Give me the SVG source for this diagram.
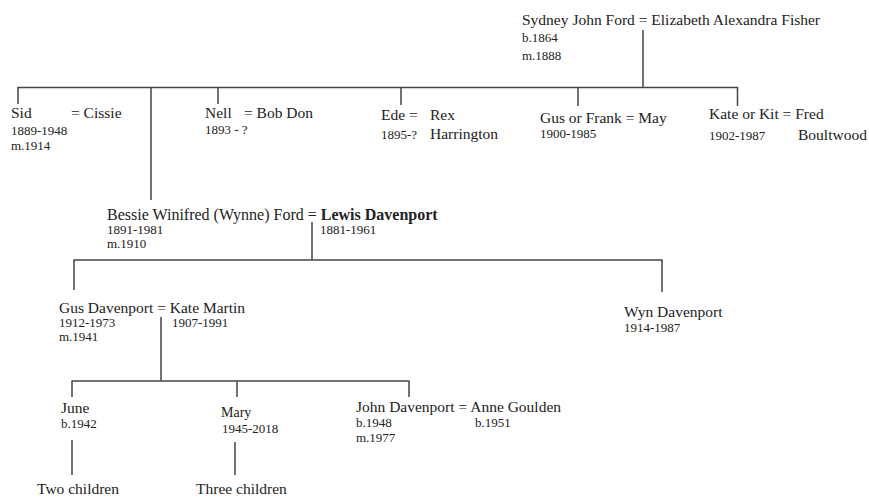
<svg xmlns="http://www.w3.org/2000/svg" width="869" height="497" viewBox="0 0 869 497">
<style>
text{font-family:"Liberation Serif","Times New Roman",serif;fill:#222}
.n{font-size:15.5px}
.s{font-size:13px}
.b{font-weight:bold}
.m{font-size:14px}
.l{font-size:16px}
#connectors line{stroke:#444;stroke-width:1.5;fill:none}
</style>
<rect width="869" height="497" fill="#fff"/>
<g id="connectors">
<line x1="643" y1="30" x2="643" y2="87.5"/>
<line x1="17.5" y1="87.5" x2="738" y2="87.5"/>
<line x1="18" y1="87" x2="18" y2="104"/>
<line x1="151" y1="87" x2="151" y2="200"/>
<line x1="218" y1="87" x2="218" y2="104"/>
<line x1="401" y1="87" x2="401" y2="105"/>
<line x1="578" y1="87" x2="578" y2="106"/>
<line x1="737.5" y1="87" x2="737.5" y2="106"/>
<line x1="312" y1="222" x2="312" y2="260"/>
<line x1="73.5" y1="260" x2="662.5" y2="260"/>
<line x1="74" y1="260" x2="74" y2="290"/>
<line x1="662" y1="260" x2="662" y2="292"/>
<line x1="161" y1="317" x2="161" y2="381"/>
<line x1="71.5" y1="381" x2="409.5" y2="381"/>
<line x1="72" y1="381" x2="72" y2="397"/>
<line x1="237" y1="381" x2="237" y2="397"/>
<line x1="409" y1="381" x2="409" y2="397"/>
<line x1="72" y1="440" x2="72" y2="475"/>
<line x1="235" y1="442" x2="235" y2="475"/>
</g>
<g id="sydney">
<text class="n" x="522" y="25">Sydney John Ford = Elizabeth Alexandra Fisher</text>
<text class="s" x="522" y="42">b.1864</text>
<text class="s" x="522" y="60">m.1888</text>
</g>
<g id="sid">
<text class="n" x="11" y="118">Sid</text>
<text class="n" x="71" y="118">= Cissie</text>
<text class="s" x="11" y="135">1889-1948</text>
<text class="s" x="11" y="150">m.1914</text>
</g>
<g id="nell">
<text class="n" x="205" y="118">Nell</text>
<text class="n" x="244" y="118">= Bob Don</text>
<text class="s" x="205" y="134">1893 - ?</text>
</g>
<g id="ede">
<text class="n" x="381" y="120">Ede =</text>
<text class="n" x="430" y="120">Rex</text>
<text class="s" x="381" y="139">1895-?</text>
<text class="n" x="430" y="139">Harrington</text>
</g>
<g id="gus-frank">
<text class="n" x="540" y="123">Gus or Frank = May</text>
<text class="s" x="540" y="138">1900-1985</text>
</g>
<g id="kate-kit">
<text class="n" x="709" y="119">Kate or Kit = Fred</text>
<text class="s" x="709" y="140">1902-1987</text>
<text class="n" x="798" y="140">Boultwood</text>
</g>
<g id="bessie">
<text class="l" x="107" y="220">Bessie Winifred (Wynne) Ford = <tspan class="b">Lewis Davenport</tspan></text>
<text class="s" x="107" y="234">1891-1981</text>
<text class="s" x="107" y="248">m.1910</text>
<text class="s" x="320" y="234">1881-1961</text>
</g>
<g id="gus-davenport">
<text class="n" x="59" y="313">Gus Davenport = Kate Martin</text>
<text class="s" x="59" y="327">1912-1973</text>
<text class="s" x="172" y="327">1907-1991</text>
<text class="s" x="59" y="341">m.1941</text>
</g>
<g id="wyn">
<text class="n" x="624" y="317">Wyn Davenport</text>
<text class="s" x="624" y="332">1914-1987</text>
</g>
<g id="june">
<text class="n" x="61" y="413">June</text>
<text class="s" x="61" y="428">b.1942</text>
</g>
<g id="mary">
<text class="m" x="221" y="417">Mary</text>
<text class="s" x="222" y="433">1945-2018</text>
</g>
<g id="john">
<text class="n" x="356" y="412">John Davenport = Anne Goulden</text>
<text class="s" x="356" y="427">b.1948</text>
<text class="s" x="475" y="427">b.1951</text>
<text class="s" x="356" y="442">m.1977</text>
</g>
<g id="june-children">
<text class="n" x="37" y="494">Two children</text>
</g>
<g id="mary-children">
<text class="n" x="196" y="494">Three children</text>
</g>
</svg>
